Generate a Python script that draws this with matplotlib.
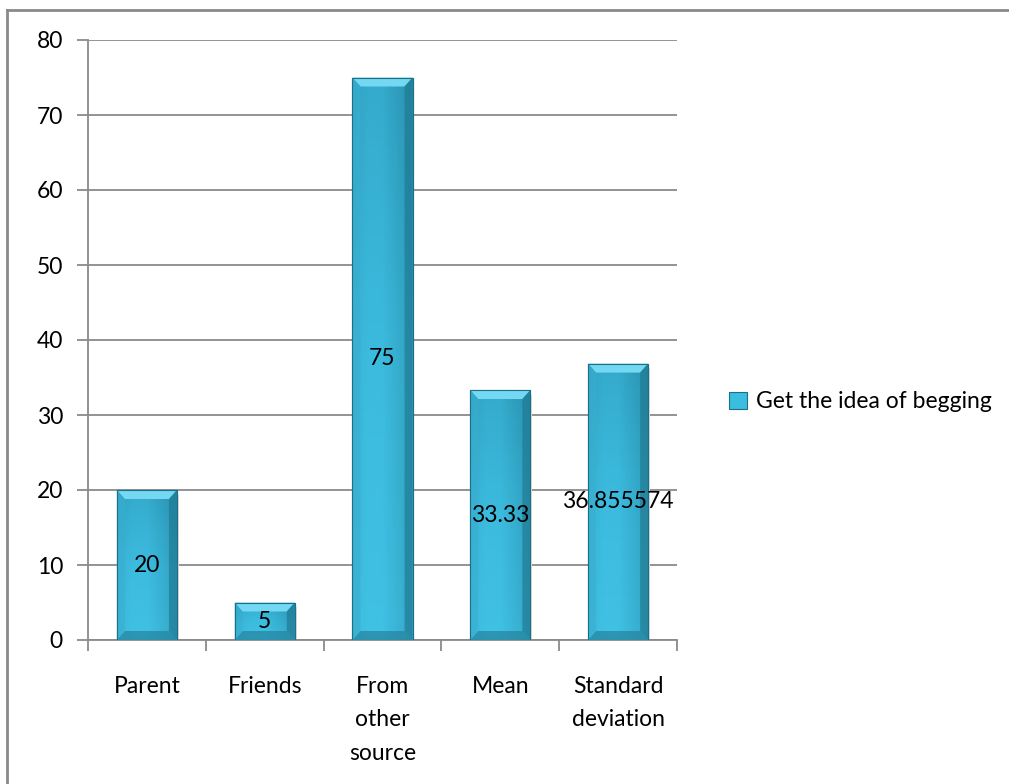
import numpy as np
import matplotlib
matplotlib.use("Agg")
import matplotlib.pyplot as plt
from matplotlib.patches import Rectangle, Polygon
from matplotlib.lines import Line2D
from matplotlib.colors import LinearSegmentedColormap

# data
categories = ["Parent", "Friends", "From\nother\nsource", "Mean", "Standard\ndeviation"]
values = [20, 5, 75, 33.33, 36.855574]
value_labels = ["20", "5", "75", "33.33", "36.855574"]
series_name = "Get the idea of begging"

plt.rcParams['font.family'] = ['Lato', 'DejaVu Sans']
FS = 16.5
GRAY = "#8a8a8a"

fig = plt.figure(figsize=(10.09, 7.84), dpi=100)
ax = fig.add_axes([88/1009, 1-640/784, (677-88)/1009, 600/784])

x = np.arange(len(values))
W = 0.51
bars = ax.bar(x, values, width=W, color="#3bbde0", edgecolor="#1d6f86", linewidth=0.8, zorder=3)

# bevel shading on every bar
cmap = LinearSegmentedColormap.from_list("bv", ["#42c3e6", "#3bb9dc", "#2f9dbd"])
hcmap = LinearSegmentedColormap.from_list("hv", ["#34a9ca", "#3ec0e3", "#3ec0e3", "#2f9ebe", "#227f99"])
bx = 8 / 117.8   # bevel width, data units
by = 9 / 7.5     # bevel height, data units
for b in bars:
    x0, w, h = b.get_x(), b.get_width(), b.get_height()
    x1 = x0 + w
    # soft shadow to the right
    ax.add_patch(Rectangle((x1, 0), 0.015, h - by*0.5, color="#e0e0e0", zorder=2, lw=0))
    grad = np.linspace(0, 1, 64).reshape(-1, 1)
    im = ax.imshow(grad, cmap=cmap, extent=(x0, x1, h, 0), aspect="auto", zorder=3.1)
    im.set_clip_path(b)
    hg = np.linspace(0, 1, 64).reshape(1, -1)
    im2 = ax.imshow(hg, cmap=hcmap, extent=(x0, x1, 0, h), aspect="auto", zorder=3.2, alpha=0.4)
    im2.set_clip_path(b)
    # top bevel (light), bottom bevel (dark), side bevels
    ax.add_patch(Polygon([(x0, h), (x1, h), (x1-bx, h-by), (x0+bx, h-by)],
                         closed=True, fc="#74d8f3", ec="none", zorder=3.3))
    ax.add_patch(Polygon([(x0, 0), (x1, 0), (x1-bx, by), (x0+bx, by)],
                         closed=True, fc="#25839d", ec="none", zorder=3.3, alpha=0.7))
    ax.add_patch(Polygon([(x0, 0), (x0, h), (x0+bx, h-by), (x0+bx, by)],
                         closed=True, fc="#3aaecf", ec="none", zorder=3.3, alpha=0.6))
    ax.add_patch(Polygon([(x1, 0), (x1, h), (x1-bx, h-by), (x1-bx, by)],
                         closed=True, fc="#1f7891", ec="none", zorder=3.3, alpha=0.65))
    ax.add_patch(Rectangle((x0, 0), w, h, fc="none", ec="#1d6f86", lw=0.8, zorder=3.4))

for xi, v, lab in zip(x, values, value_labels):
    ax.text(xi, v/2, lab, ha="center", va="center", fontsize=FS, color="black", zorder=5)

ax.set_xlim(-0.5, len(values) - 0.5)
ax.set_ylim(0, 80)
ax.set_yticks(np.arange(0, 81, 10))
ax.yaxis.grid(True, color=GRAY, linewidth=1.3, zorder=0)
ax.set_axisbelow(True)

ax.set_xticks(x)
ax.set_xticklabels(categories, fontsize=FS, linespacing=1.72, va="top")
ax.set_xticks(np.arange(-0.5, len(values)), minor=True)
ax.tick_params(axis="x", which="major", length=0, pad=26)
ax.tick_params(axis="x", which="minor", length=8, width=1.3, color=GRAY, direction="out")
ax.tick_params(axis="y", length=8, width=1.3, color=GRAY, labelsize=FS, pad=10)

for s in ["top", "right"]:
    ax.spines[s].set_visible(False)
for s in ["left", "bottom"]:
    ax.spines[s].set_color(GRAY)
    ax.spines[s].set_linewidth(1.3)

handle = Rectangle((0, 0), 1, 1, fc="#3bbde0", ec="#1d6f86", lw=0.8)
fig.legend([handle], [series_name], loc="center left", bbox_to_anchor=(708/1009, 1-402/784),
           frameon=False, fontsize=FS, handlelength=0.8, handleheight=0.8, handletextpad=0.4)

# outer frame of the chart area
fig.add_artist(Line2D([7/1009, 7/1009], [0, 1-10/784], transform=fig.transFigure, color=GRAY, lw=2))
fig.add_artist(Line2D([7/1009, 1], [1-10/784, 1-10/784], transform=fig.transFigure, color=GRAY, lw=2))

fig.savefig("out.png", dpi=100)
